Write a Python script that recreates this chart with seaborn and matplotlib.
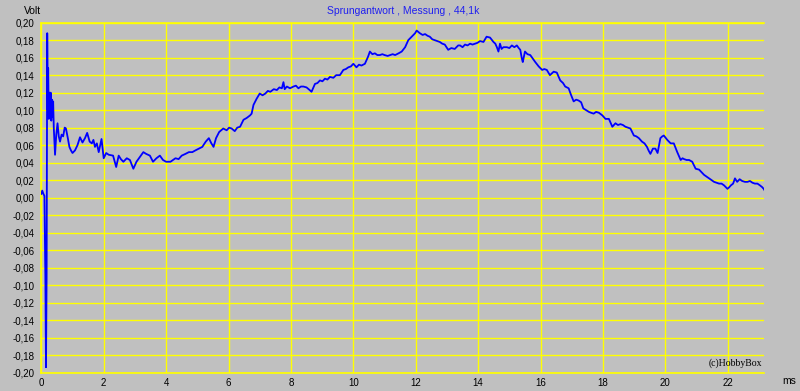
import matplotlib
matplotlib.use("Agg")
import matplotlib.pyplot as plt
import seaborn as sns
import pandas as pd
import numpy as np

# ---- data (time in ms, voltage in V) ----
t_ms = [0.00, 0.03, 0.07, 0.10, 0.12, 0.13, 0.15, 0.17, 0.19, 0.21, 0.22, 0.24, 0.26, 0.28, 0.30,
        0.32, 0.34, 0.36, 0.38, 0.40, 0.44, 0.48, 0.52, 0.56, 0.60, 0.65, 0.70, 0.75, 0.79, 0.85,
        0.90, 0.95, 1.00, 1.08, 1.16, 1.24, 1.32, 1.40, 1.47, 1.55, 1.62, 1.67, 1.72, 1.78, 1.84,
        1.93, 2.00, 2.08, 2.16, 2.30, 2.40, 2.48, 2.55, 2.63, 2.74, 2.84, 2.95, 3.05, 3.15, 3.27,
        3.36, 3.48, 3.58, 3.69, 3.80, 3.90, 4.00, 4.14, 4.30, 4.40, 4.50, 4.62, 4.73, 4.84, 4.94,
        5.05, 5.16, 5.27, 5.37, 5.45, 5.52, 5.60, 5.70, 5.83, 5.94, 6.02, 6.10, 6.20, 6.28, 6.37,
        6.48, 6.58, 6.69, 6.74, 6.80, 6.90, 7.00, 7.09, 7.18, 7.26, 7.34, 7.45, 7.55, 7.63, 7.71,
        7.76, 7.80, 7.87, 7.97, 8.08, 8.16, 8.24, 8.32, 8.40, 8.50, 8.60, 8.66, 8.77, 8.85, 8.93,
        9.01, 9.09, 9.17, 9.25, 9.36, 9.45, 9.57, 9.68, 9.76, 9.84, 9.92, 10.00, 10.10, 10.18, 10.26,
        10.37, 10.47, 10.53, 10.61, 10.69, 10.77, 10.85, 10.93, 11.00, 11.10, 11.18, 11.26, 11.34, 11.45, 11.55,
        11.66, 11.76, 11.87, 11.98, 12.03, 12.13, 12.22, 12.30, 12.38, 12.45, 12.53, 12.61, 12.69, 12.77, 12.85,
        12.93, 13.04, 13.14, 13.25, 13.36, 13.42, 13.50, 13.58, 13.66, 13.74, 13.82, 13.90, 13.98, 14.06, 14.17,
        14.27, 14.38, 14.49, 14.55, 14.60, 14.65, 14.70, 14.75, 14.81, 14.92, 15.00, 15.08, 15.16, 15.24, 15.30,
        15.35, 15.40, 15.43, 15.50, 15.58, 15.67, 15.75, 15.83, 15.94, 16.05, 16.12, 16.20, 16.30, 16.42, 16.52,
        16.63, 16.72, 16.79, 16.90, 16.97, 17.06, 17.14, 17.22, 17.30, 17.37, 17.46, 17.55, 17.62, 17.70, 17.78,
        17.87, 17.98, 18.08, 18.19, 18.30, 18.40, 18.48, 18.56, 18.64, 18.72, 18.80, 18.88, 18.99, 19.07, 19.15,
        19.25, 19.33, 19.41, 19.46, 19.52, 19.60, 19.68, 19.75, 19.84, 19.90, 19.95, 20.06, 20.17, 20.27, 20.38,
        20.49, 20.55, 20.60, 20.68, 20.76, 20.86, 20.97, 21.08, 21.16, 21.24, 21.32, 21.40, 21.48, 21.56, 21.64,
        21.72, 21.80, 21.88, 21.99, 22.05, 22.10, 22.17, 22.23, 22.30, 22.38, 22.46, 22.55, 22.63, 22.71, 22.79,
        22.87, 22.95, 23.03, 23.10, 23.15, 23.20]

volt = [0.004, 0.008, 0.004, 0.002, -0.060, -0.090, -0.194, -0.090, 0.188, 0.100, 0.148, 0.090, 0.120, 0.100, 0.120,
        0.088, 0.112, 0.092, 0.110, 0.080, 0.049, 0.072, 0.085, 0.070, 0.064, 0.072, 0.070, 0.080, 0.079, 0.068,
        0.058, 0.054, 0.051, 0.054, 0.060, 0.069, 0.063, 0.068, 0.074, 0.064, 0.062, 0.066, 0.058, 0.062, 0.052,
        0.067, 0.045, 0.051, 0.049, 0.048, 0.035, 0.048, 0.044, 0.041, 0.045, 0.043, 0.033, 0.041, 0.046, 0.052,
        0.050, 0.048, 0.041, 0.045, 0.048, 0.043, 0.041, 0.041, 0.045, 0.044, 0.048, 0.050, 0.052, 0.052, 0.054,
        0.056, 0.058, 0.064, 0.068, 0.062, 0.058, 0.068, 0.075, 0.079, 0.077, 0.080, 0.079, 0.076, 0.080, 0.081,
        0.089, 0.091, 0.094, 0.096, 0.106, 0.113, 0.119, 0.117, 0.119, 0.122, 0.121, 0.124, 0.123, 0.126, 0.125,
        0.132, 0.124, 0.127, 0.125, 0.127, 0.128, 0.125, 0.127, 0.127, 0.126, 0.123, 0.121, 0.130, 0.131, 0.134,
        0.133, 0.136, 0.135, 0.138, 0.137, 0.140, 0.140, 0.146, 0.147, 0.149, 0.150, 0.153, 0.149, 0.152, 0.151,
        0.153, 0.161, 0.167, 0.164, 0.165, 0.163, 0.163, 0.164, 0.163, 0.162, 0.163, 0.164, 0.163, 0.165, 0.167,
        0.172, 0.180, 0.184, 0.188, 0.191, 0.188, 0.186, 0.187, 0.185, 0.184, 0.181, 0.180, 0.179, 0.178, 0.176,
        0.175, 0.169, 0.171, 0.170, 0.174, 0.174, 0.172, 0.175, 0.174, 0.176, 0.175, 0.176, 0.177, 0.179, 0.178,
        0.184, 0.183, 0.178, 0.176, 0.172, 0.167, 0.176, 0.170, 0.172, 0.172, 0.171, 0.174, 0.172, 0.174, 0.171,
        0.169, 0.159, 0.155, 0.167, 0.164, 0.163, 0.159, 0.155, 0.150, 0.146, 0.147, 0.146, 0.140, 0.144, 0.143,
        0.134, 0.131, 0.127, 0.125, 0.118, 0.110, 0.112, 0.111, 0.109, 0.102, 0.100, 0.098, 0.097, 0.096, 0.098,
        0.097, 0.094, 0.090, 0.090, 0.081, 0.085, 0.083, 0.084, 0.083, 0.081, 0.080, 0.079, 0.071, 0.070, 0.068,
        0.064, 0.062, 0.058, 0.054, 0.050, 0.056, 0.056, 0.051, 0.068, 0.070, 0.071, 0.066, 0.062, 0.062, 0.052,
        0.043, 0.045, 0.044, 0.043, 0.043, 0.041, 0.033, 0.032, 0.029, 0.026, 0.024, 0.022, 0.020, 0.018, 0.017,
        0.016, 0.016, 0.014, 0.010, 0.012, 0.014, 0.016, 0.022, 0.018, 0.021, 0.019, 0.018, 0.018, 0.019, 0.017,
        0.016, 0.016, 0.014, 0.012, 0.010, 0.007]

y_ticks = [-0.20, -0.18, -0.16, -0.14, -0.12, -0.10, -0.08, -0.06, -0.04, -0.02,
           0.00, 0.02, 0.04, 0.06, 0.08, 0.10, 0.12, 0.14, 0.16, 0.18, 0.20]
x_ticks = [0, 2, 4, 6, 8, 10, 12, 14, 16, 18, 20, 22]

title = "Sprungantwort , Messung , 44,1k"

# ---- styling ----
BG = "#C0C0C0"
GRID = "#FFFF00"
LINE = "#0000FF"

sns.set_style("white")
plt.rcParams["font.family"] = ["Liberation Sans", "DejaVu Sans"]

fig = plt.figure(figsize=(8.0, 3.91), dpi=100, facecolor=BG)
ax = fig.add_axes([41.3 / 800, 1 - 372.5 / 391, (764.3 - 41.3) / 800, (372.5 - 22.7) / 391])
ax.set_facecolor(BG)

df = pd.DataFrame({"t": t_ms, "v": volt})
sns.lineplot(data=df, x="t", y="v", ax=ax, color=LINE, linewidth=1.3,
             estimator=None, sort=False, zorder=3)

ax.set_xlim(0, 23.17)
ax.set_ylim(-0.20, 0.20)
ax.set_xticks(x_ticks)
ax.set_yticks(y_ticks)
ax.set_xticklabels([str(v) for v in x_ticks])
ax.set_yticklabels([f"{abs(v):.2f}".replace(".", ",") if abs(v) < 1e-9 else f"{v:.2f}".replace(".", ",")
                    for v in y_ticks])
ax.tick_params(axis="both", length=0, labelsize=7, colors="black")
ax.tick_params(axis="y", pad=5)
ax.tick_params(axis="x", pad=4)

ax.grid(True, color=GRID, linewidth=1.0, zorder=1)
ax.set_axisbelow(True)
for side in ["left", "top", "bottom"]:
    ax.spines[side].set_color(GRID)
    ax.spines[side].set_linewidth(1.2)
ax.spines["right"].set_visible(False)

ax.set_xlabel("")
ax.set_ylabel("")

fig.text(24 / 800, 1 - 11 / 391, "Volt", fontsize=7.5, color="black", va="center", ha="left")
fig.text(403 / 800, 1 - 11 / 391, title, fontsize=7.5, color="#2020F0", va="center", ha="center")
fig.text(782 / 800, 1 - 381 / 391, "ms", fontsize=7.5, color="black", va="center", ha="left")
ax.text(0.997, 0.012, "(c)HobbyBox", transform=ax.transAxes, fontsize=7,
        family=["Liberation Serif", "DejaVu Serif"], color="black", ha="right", va="bottom")

fig.savefig("out.png", dpi=100, facecolor=BG)
